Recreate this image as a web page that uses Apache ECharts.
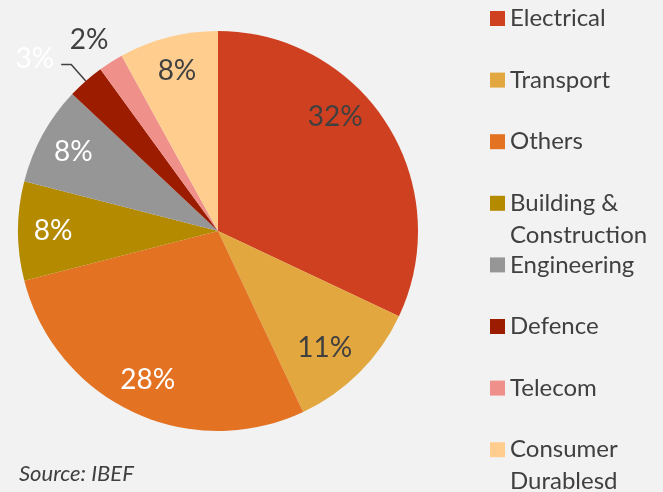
<!DOCTYPE html>
<html>
<head>
<meta charset="utf-8">
<script src="https://cdn.jsdelivr.net/npm/echarts@6/dist/echarts.min.js"></script>
<style>
  html, body { margin: 0; padding: 0; background: #f2f2f2; }
  #main { width: 663px; height: 492px; }
</style>
</head>
<body>
<div id="main"></div>
<script>
// 行业占比
const sectors = ['Electrical', 'Transport', 'Others', 'Building & Construction', 'Engineering', 'Defence', 'Telecom', 'Consumer Durablesd'];
const legendText = ['Electrical', 'Transport', 'Others', 'Building &\nConstruction', 'Engineering', 'Defence', 'Telecom', 'Consumer\nDurablesd'];
const shares = [32, 11, 28, 8, 8, 3, 2, 8];
const colors = ['#CF4020', '#E3A73F', '#E37222', '#B38A00', '#969696', '#9C1C00', '#EF918A', '#FFCE8E'];
const source = 'Source: IBEF';

// 白色标签的扇区
const whiteLabels = ['Others', 'Building & Construction', 'Engineering', 'Defence'];

const chart = echarts.init(document.getElementById('main'));
const font = 'Lato, "Open Sans", sans-serif';
const textColor = '#404040';

// 每个图例单独放一个，两行的在前面加一个空行，让第一行对齐色块
const legends = sectors.map(function (name, i) {
  const twoLines = legendText[i].indexOf('\n') >= 0;
  const iconCenter = 18.5 + i * 61.6;
  return {
    orient: 'vertical',
    left: 490,
    top: twoLines ? iconCenter - 48 : iconCenter - 16,
    padding: 0,
    icon: 'rect',
    itemWidth: 15,
    itemHeight: 15,
    selectedMode: false,
    data: [{ name: name, itemStyle: { color: colors[i] } }],
    formatter: function () { return twoLines ? '\n' + legendText[i] : legendText[i]; },
    textStyle: {
      fontFamily: font,
      fontSize: 24,
      lineHeight: 32,
      color: textColor
    }
  };
});

function labelColor(name) {
  return whiteLabels.indexOf(name) >= 0 ? '#ffffff' : textColor;
}

// 小扇区标签放外面
const mainData = sectors.map(function (name, i) {
  const small = shares[i] < 5;
  const isDefence = name === 'Defence';
  return {
    name: name,
    value: shares[i],
    itemStyle: { color: colors[i] },
    label: {
      show: small,
      color: labelColor(name),
      offset: isDefence ? [-4, -6] : [8, -10]
    },
    labelLine: {
      show: isDefence,
      length: isDefence ? 22 : 14,
      length2: isDefence ? 10 : 0
    }
  };
});

const ringData = sectors.map(function (name, i) {
  return {
    name: name,
    value: shares[i],
    label: {
      show: shares[i] >= 5,
      color: labelColor(name),
      offset: name === 'Electrical' ? [-22, -26] : (name === 'Transport' ? [-10, 0] : [0, 0])
    }
  };
});

chart.setOption({
  backgroundColor: '#f2f2f2',
  animation: false,
  title: {
    text: source,
    left: 14,
    top: 458,
    textStyle: {
      fontFamily: font,
      fontStyle: 'italic',
      fontWeight: 'normal',
      fontSize: 22,
      color: textColor
    }
  },
  legend: legends,
  series: [
    {
      type: 'pie',
      center: [218, 231],
      radius: [0, 200],
      startAngle: 90,
      clockwise: true,
      avoidLabelOverlap: false,
      silent: true,
      data: mainData,
      label: {
        position: 'outside',
        formatter: '{c}%',
        fontFamily: font,
        fontSize: 28,
        distanceToLabelLine: 3
      },
      labelLine: {
        lineStyle: { color: '#404040', width: 1.5 }
      }
    },
    {
      type: 'pie',
      center: [218, 231],
      radius: [124, 200],
      startAngle: 90,
      clockwise: true,
      silent: true,
      avoidLabelOverlap: false,
      itemStyle: { color: 'rgba(0,0,0,0)' },
      data: ringData,
      label: {
        position: 'inside',
        formatter: '{c}%',
        fontFamily: font,
        fontSize: 28
      },
      labelLine: { show: false }
    }
  ]
});
</script>
</body>
</html>
